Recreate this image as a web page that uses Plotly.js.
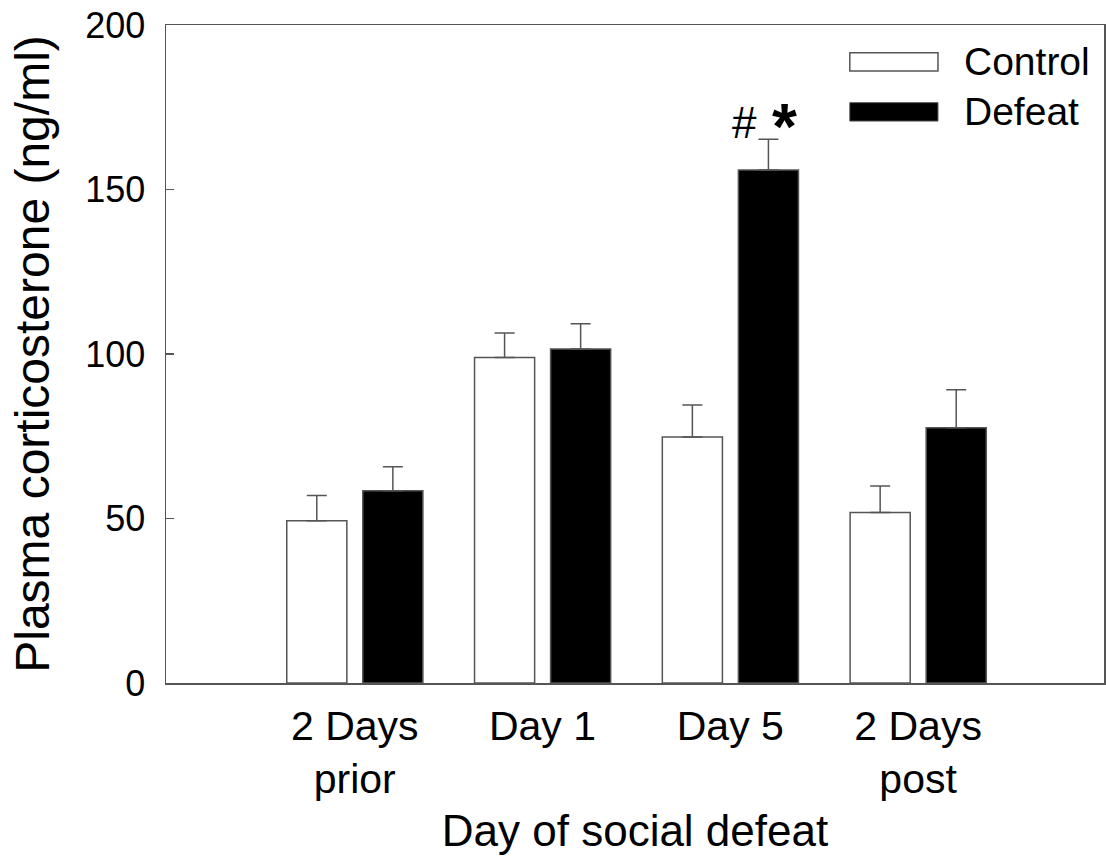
<!DOCTYPE html>
<html>
<head>
<meta charset="utf-8">
<script src="https://cdn.plot.ly/plotly-3.0.1.min.js"></script>
<style>html,body{margin:0;padding:0;background:#fff;}#chart{width:1106px;height:856px;}</style>
</head>
<body>
<div id="chart"></div>
<script>
const categories = ["2 Days<br>prior", "Day 1", "Day 5", "2 Days<br>post"];
const catIndex = [0, 1, 2, 3];
const controlValues = [49.3, 98.9, 74.8, 51.8];
const controlErrors = [7.7, 7.5, 9.7, 8.1];
const defeatValues = [58.4, 101.5, 155.9, 77.6];
const defeatErrors = [7.3, 7.7, 9.4, 11.5];
const yTicks = [0, 50, 100, 150, 200];

const FONT = '"Liberation Sans", Arial, sans-serif';
const LINE = '#555555';

const traces = [
  {
    type: 'bar', name: 'Control', x: catIndex, y: controlValues,
    width: 0.32, offset: -0.362,
    marker: {color: '#ffffff', line: {color: LINE, width: 1.5}},
    error_y: {type: 'data', array: controlErrors, symmetric: false, arrayminus: controlErrors.map(() => 0), color: LINE, thickness: 1.5, width: 10},
    showlegend: false
  },
  {
    type: 'bar', name: 'Defeat', x: catIndex, y: defeatValues,
    width: 0.32, offset: 0.043,
    marker: {color: '#000000', line: {color: LINE, width: 1.5}},
    error_y: {type: 'data', array: defeatErrors, symmetric: false, arrayminus: defeatErrors.map(() => 0), color: LINE, thickness: 1.5, width: 10},
    showlegend: false
  }
];

const layout = {
  width: 1106, height: 856,
  margin: {l: 166, r: 2, t: 25, b: 173},
  paper_bgcolor: '#ffffff', plot_bgcolor: '#ffffff',
  font: {family: FONT, color: '#000000'},
  barmode: 'overlay',
  showlegend: false,
  xaxis: {
    type: 'linear', range: [-1.005, 3.99],
    tickvals: catIndex, ticktext: categories,
    tickfont: {size: 41, family: FONT},
    ticks: '', showgrid: false, zeroline: false,
    showline: true, linecolor: LINE, linewidth: 1.5, mirror: true,
    ticklabelstandoff: 6,
    title: {text: 'Day of social defeat', font: {size: 44, family: FONT}, standoff: 14}
  },
  yaxis: {
    range: [0, 200], tickvals: yTicks,
    tickfont: {size: 36, family: FONT},
    ticks: 'inside', ticklen: 8, tickcolor: LINE, tickwidth: 1.5,
    showgrid: false, zeroline: false,
    showline: true, linecolor: LINE, linewidth: 1.5, mirror: true,
    ticklabelstandoff: 12,
    title: {text: 'Plasma corticosterone (ng/ml)', font: {size: 48, family: FONT}, standoff: 20}
  },
  shapes: [
    {type: 'rect', xref: 'paper', yref: 'paper', x0: 0.729, x1: 0.823, y0: 0.930, y1: 0.958, fillcolor: '#ffffff', line: {color: LINE, width: 1.5}},
    {type: 'rect', xref: 'paper', yref: 'paper', x0: 0.729, x1: 0.823, y0: 0.854, y1: 0.882, fillcolor: '#000000', line: {color: LINE, width: 1}}
  ],
  annotations: [
    {xref: 'paper', yref: 'paper', x: 0.849, y: 0.944, xanchor: 'left', yanchor: 'middle', text: 'Control', showarrow: false, font: {size: 39, family: FONT}},
    {xref: 'paper', yref: 'paper', x: 0.849, y: 0.868, xanchor: 'left', yanchor: 'middle', text: 'Defeat', showarrow: false, font: {size: 39, family: FONT}},
    {xref: 'x', yref: 'y', x: 2.078, y: 170.5, xanchor: 'center', yanchor: 'middle', text: '#', showarrow: false, font: {size: 44, family: FONT}},
    {xref: 'x', yref: 'y', x: 2.29, y: 169, xanchor: 'center', yanchor: 'middle', text: '<b>*</b>', showarrow: false, font: {size: 64, family: FONT}}
  ]
};

Plotly.newPlot('chart', traces, layout, {displayModeBar: false, staticPlot: true});
</script>
</body>
</html>
